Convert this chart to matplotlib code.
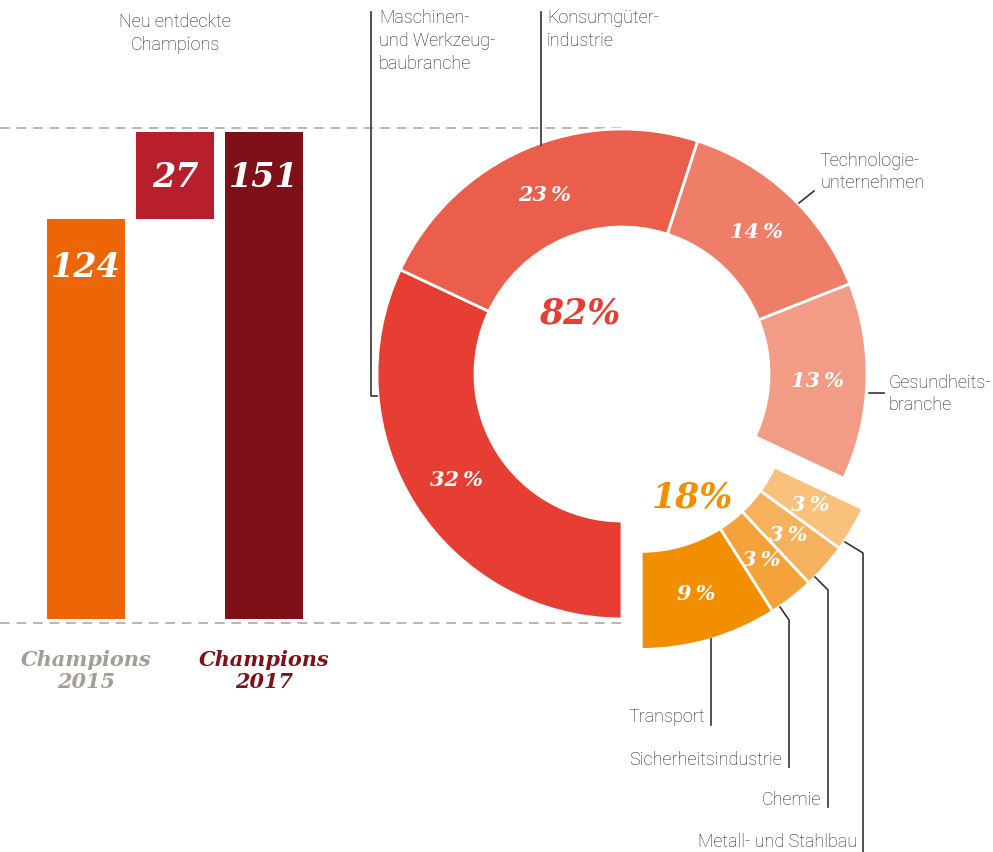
import matplotlib
matplotlib.use("Agg")
import matplotlib.pyplot as plt
import numpy as np

# bar chart data
bar_names = ["Champions\n2015", "Neu entdeckte\nChampions", "Champions\n2017"]
bar_values = [124, 27, 151]
bar_bottoms = [0, 124, 0]
bar_colors = ["#EC6608", "#B81F2C", "#7E1018"]

# donut data (clockwise from 6 o'clock)
main_names = ["Maschinen-\nund Werkzeug-\nbaubranche", "Konsumgüter-\nindustrie",
              "Technologie-\nunternehmen", "Gesundheits-\nbranche"]
main_values = [32, 23, 14, 13]
main_colors = ["#E63E33", "#EB5E4B", "#EF7E68", "#F29C85"]
main_total = 82

small_names = ["Metall- und Stahlbau", "Chemie", "Sicherheitsindustrie", "Transport"]
small_values = [3, 3, 3, 9]
small_colors = ["#F9C17C", "#F6B15D", "#F4A33B", "#F18F00"]
small_total = 18

SANS = ["Roboto", "DejaVu Sans"]
SERIF = "DejaVu Serif"
W, H = 993, 853

fig = plt.figure(figsize=(W / 100, H / 100), dpi=100)
fig.patch.set_facecolor("white")

# ---- left: waterfall bars ----
top_px, bot_px = 129, 624
ax = fig.add_axes([0, 1 - bot_px / H, 622 / W, (bot_px - top_px) / H])
ax.set_xlim(-86 / 89, (622 - 86) / 89)
ax.set_ylim(-1.2, 152.3)
ax.axis("off")
x = np.arange(len(bar_values))
ax.bar(x, bar_values, bottom=bar_bottoms, width=0.876, color=bar_colors, zorder=2)
for yy in (0, 1):
    ax.plot([0, 1], [yy, yy], transform=ax.transAxes, color="#BDB5AF", lw=1.4,
            ls=(0, (5, 3.5)), clip_on=False, zorder=1)
label_y = [268, 178, 178]
for i, v in enumerate(bar_values):
    yv = 152.3 - (label_y[i] - top_px) / 3.225
    ax.text(x[i], yv, str(v), ha="center", va="center", color="white",
            family=SERIF, fontweight="bold", style="italic", fontsize=24)

ax.text(0, -15.8, bar_names[0], ha="center", va="center", color="#A59C94",
        family=SERIF, fontweight="bold", style="italic", fontsize=15, linespacing=1.08)
ax.text(2, -15.8, bar_names[2], ha="center", va="center", color="#7E1018",
        family=SERIF, fontweight="bold", style="italic", fontsize=15, linespacing=1.08)
ax.text(1, 181.8, bar_names[1], ha="center", va="center", color="#222222",
        family=SANS, fontweight="light", fontsize=13, linespacing=1.35)

# ---- right: donut ----
cx, cy, R = 622, 375, 245
half = 300
dax = fig.add_axes([(cx - half) / W, 1 - (cy + half) / H, 2 * half / W, 2 * half / H])
ring = 0.4
pct = lambda p: f"{p:.0f}\u2009%"

wedges1, _, auto1 = dax.pie(main_values + [small_total], startangle=270, counterclock=False,
                            colors=main_colors + ["white"], autopct=pct, pctdistance=0.8,
                            wedgeprops=dict(width=ring, edgecolor="white", linewidth=2))
wedges1[-1].set_visible(False)
auto1[-1].set_visible(False)

mid = np.deg2rad(270 - 360 * (main_total + small_total / 2) / 100)
off = 36 / R
center2 = (off * np.cos(mid), off * np.sin(mid))
wedges2, _, auto2 = dax.pie([main_total] + small_values, startangle=270, counterclock=False,
                            colors=["white"] + small_colors, autopct=pct, pctdistance=0.8,
                            center=center2,
                            wedgeprops=dict(width=ring, edgecolor="white", linewidth=2))
wedges2[0].set_visible(False)
auto2[0].set_visible(False)
for t in list(auto1) + list(auto2):
    t.set_color("white")
    t.set_family(SERIF)
    t.set_fontweight("bold")
    t.set_style("italic")
    t.set_fontsize(15)

lim = half / R
dax.set_xlim(-lim, lim)
dax.set_ylim(-lim, lim)
dax.set_aspect("equal")
dax.axis("off")

def px(p):
    return ((p[0] - cx) / R, (cy - p[1]) / R)

dax.text(*px((580, 314)), f"{main_total}%", ha="center", va="center", color="#E63E33",
         family=SERIF, fontweight="bold", style="italic", fontsize=25)
dax.text(*px((692, 497)), f"{small_total}%", ha="center", va="center", color="#F18F00",
         family=SERIF, fontweight="bold", style="italic", fontsize=25)

# ---- overlay: leader lines and category labels ----
ov = fig.add_axes([0, 0, 1, 1], zorder=5)
ov.set_xlim(0, W)
ov.set_ylim(H, 0)
ov.axis("off")
lc = dict(color="#333333", lw=1.2)
tk = dict(color="#222222", family=SANS, fontweight="light", fontsize=13, linespacing=1.35)

ov.plot([371, 371, 377], [13, 397, 397], **lc)
ov.text(379, 9, main_names[0], ha="left", va="top", **tk)
ov.plot([541, 541], [13, 146], **lc)
ov.text(547, 9, main_names[1], ha="left", va="top", **tk)
ov.plot([799, 814], [204, 192], **lc)
ov.text(820, 172, main_names[2], ha="left", va="center", **tk)
ov.plot([869, 884], [394, 394], **lc)
ov.text(889, 394, main_names[3], ha="left", va="center", **tk)

ov.plot([711, 711], [640, 726], **lc)
ov.text(705, 717, small_names[3], ha="right", va="center", **tk)
ov.plot([780, 789, 789], [608, 621, 768], **lc)
ov.text(782, 760, small_names[2], ha="right", va="center", **tk)
ov.plot([815, 828, 828], [578, 591, 808], **lc)
ov.text(821, 800, small_names[1], ha="right", va="center", **tk)
ov.plot([845, 863, 863], [543, 554, 853], **lc)
ov.text(857, 842, small_names[0], ha="right", va="center", **tk)

fig.savefig("out.png", dpi=100, facecolor="white")
